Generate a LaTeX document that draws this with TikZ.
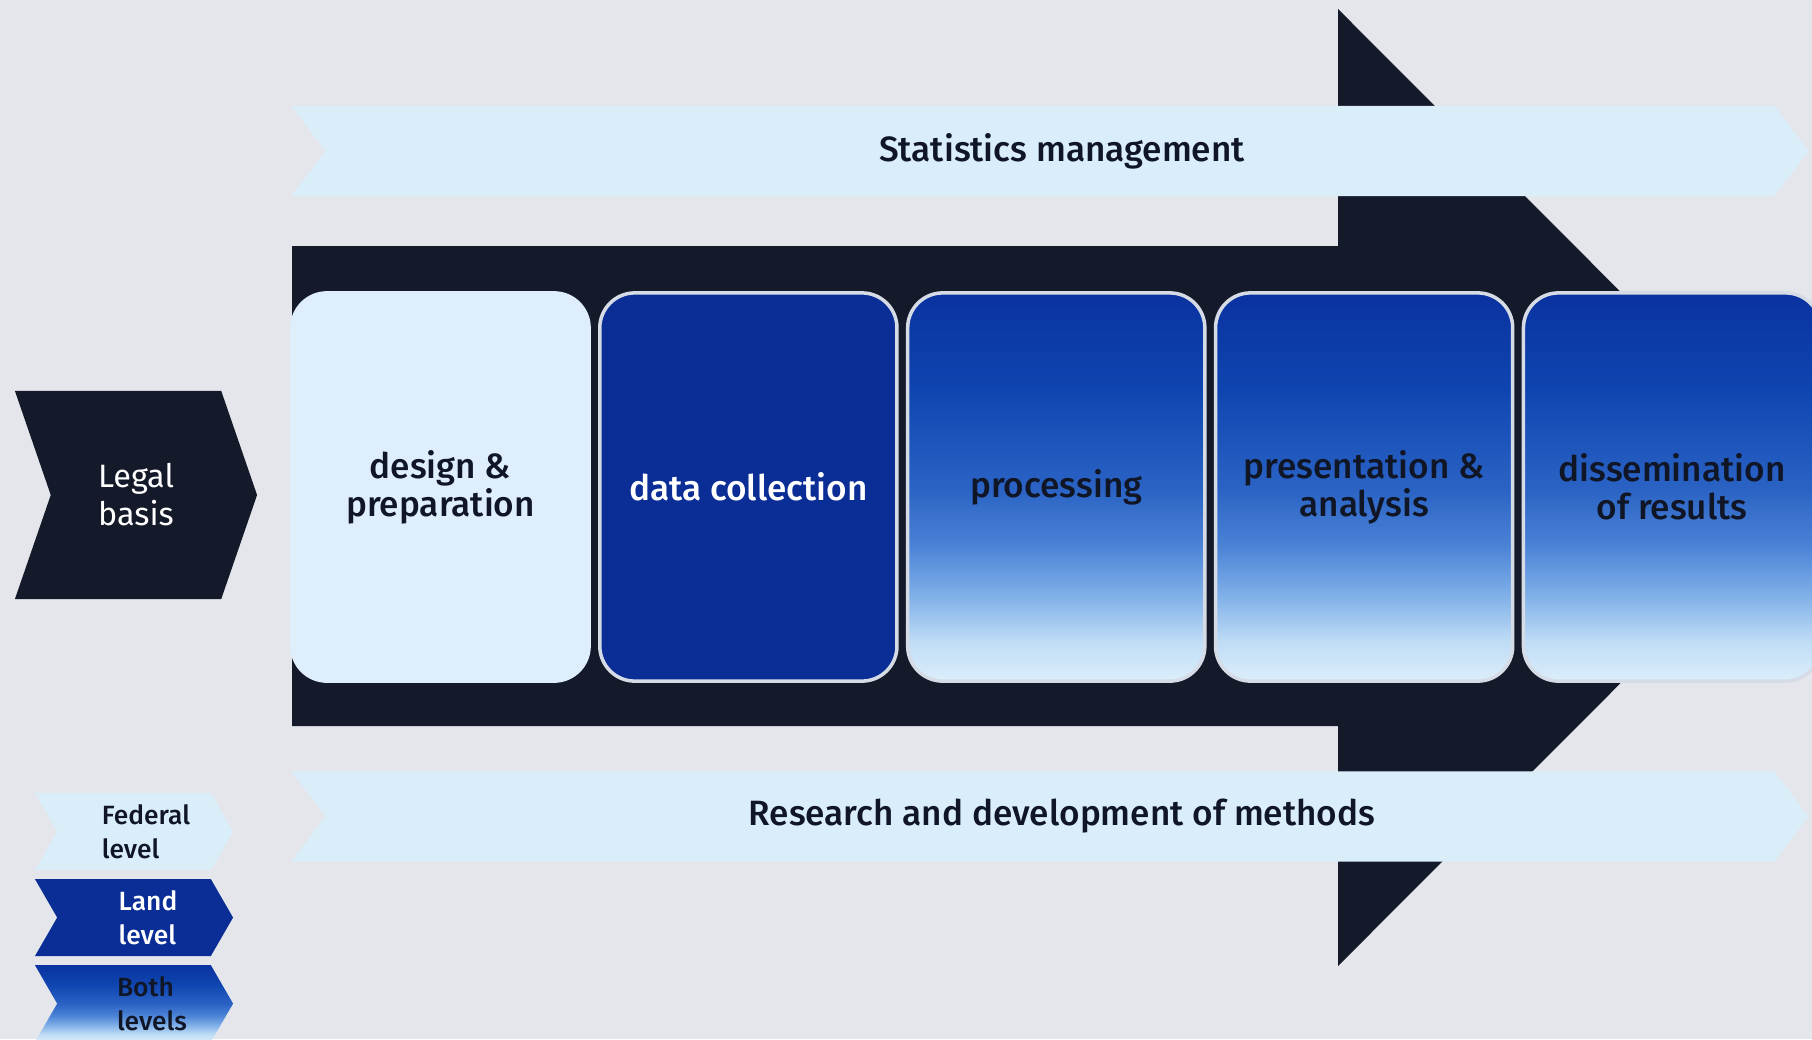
\documentclass[tikz,border=0pt]{standalone}
\usepackage{fontspec}
\setmainfont{Fira Sans}
\newfontfamily\medfont{Fira Sans Medium}
\usetikzlibrary{shapes,shapes.symbols,positioning}

\definecolor{paper}{RGB}{228,230,235}
\definecolor{navy}{RGB}{20,26,42}
\definecolor{ink}{RGB}{16,22,38}
\definecolor{skyband}{RGB}{218,238,250}
\definecolor{paleblue}{RGB}{222,238,250}
\definecolor{deepblue}{RGB}{10,45,150}
\definecolor{fadeA}{RGB}{10,50,160}
\definecolor{fadeB}{RGB}{15,69,176}
\definecolor{fadeC}{RGB}{42,98,196}
\definecolor{fadeD}{RGB}{74,130,214}
\definecolor{fadeE}{RGB}{128,176,232}
\definecolor{fadeF}{RGB}{192,221,246}
\definecolor{fadeG}{RGB}{220,238,251}
\definecolor{rim}{RGB}{214,220,230}

\pgfdeclareverticalshading{fade}{100bp}{color(0bp)=(fadeG); color(25bp)=(fadeG); color(30bp)=(fadeF); color(36bp)=(fadeE); color(42.5bp)=(fadeD); color(50bp)=(fadeC); color(62.5bp)=(fadeB); color(75bp)=(fadeA); color(100bp)=(fadeA)}

\begin{document}
\begin{tikzpicture}[x=0.01cm, y=-0.01cm,
  stage/.style = {rectangle, rounded corners=0.35cm, draw=rim, line width=1pt, minimum width=2.97cm, minimum height=3.88cm, align=center, text=ink, font=\medfont\fontsize{10}{10.8}\selectfont},
  band/.style = {signal, signal from=west, signal to=east, signal pointer angle=106, fill=skyband, minimum width=15.16cm, minimum height=0.9cm, inner sep=0},
  bandtext/.style = {text=ink, font=\medfont\fontsize{10}{12}\selectfont, xshift=0.12cm},
  chev/.style = {signal, signal from=west, signal to=east, signal pointer angle=120, minimum width=1.98cm, minimum height=0.77cm, inner sep=0},
  legtext/.style = {align=left, font=\medfont\fontsize{7.5}{9.8}\selectfont},
  node distance=3.077cm]

\fill[paper] (0,0) rectangle (1812,1039);
\useasboundingbox (0,0) rectangle (1812,1039);
\clip (0,0) rectangle (1812,1039);

% big arrow behind the stages
\fill[navy] (292,246) -- (1338,246) -- (1338,9) -- (1816,487.5) -- (1338,966) -- (1338,726) -- (292,726) -- cycle;

\node[band, label={[bandtext]center:Statistics management}](mgmt) at (1050,151){};
\node[band, label={[bandtext]center:Research and development of methods}](research) at (1050,816.5){};

\node[stage, fill=paleblue, draw=paleblue](design) at (440.5,487){design \&\\preparation};
\node[stage, fill=deepblue, text=white, right of=design](collect){data collection};
\node[stage, shading=fade, right of=collect](process){processing};
\node[stage, shading=fade, right of=process](present){presentation \&\\analysis};
\node[stage, shading=fade, right of=present](dissem){dissemination\\of results};

\node[signal, signal from=west, signal to=east, signal pointer angle=142, fill=navy, minimum width=2.42cm, minimum height=2.08cm, text=white, align=center, font=\fontsize{9.2}{10.8}\selectfont](legal) at (136,495){Legal\\basis};

% legend
\node[chev, fill=skyband](fed) at (134,831.5){};
\node[chev, fill=deepblue, below of=fed, node distance=0.86cm](land){};
\node[chev, shading=fade, below of=land, node distance=0.86cm](both){};
\node[legtext, text=ink, xshift=0.12cm](fedlab) at (fed){Federal\\level};
\node[legtext, text=white, xshift=0.14cm](landlab) at (land){Land\\level};
\node[legtext, text=ink, xshift=0.18cm](bothlab) at (both){Both\\levels};

\end{tikzpicture}
\end{document}
